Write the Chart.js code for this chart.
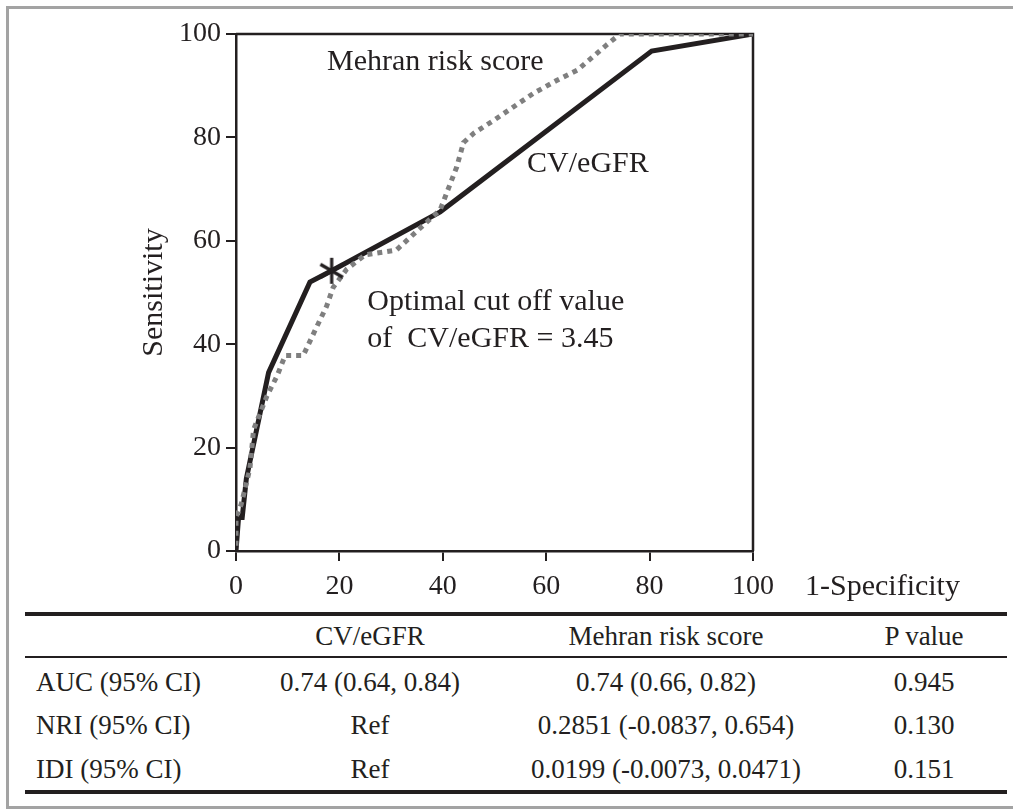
<!DOCTYPE html>
<html><head><meta charset="utf-8">
<script src="https://cdn.jsdelivr.net/npm/chart.js@4"></script>
<style>
body{margin:0;background:#fff;}
#wrap{position:relative;width:1013px;height:810px;overflow:hidden;background:#fff;}
#frame{position:absolute;left:6px;top:6px;width:1100px;height:803px;box-sizing:border-box;border:3px solid #a3a3a3;}
#c{position:absolute;left:0;top:0;}
.rule{position:absolute;left:25px;width:982px;background:#231f20;}
.t{position:absolute;font-family:"Liberation Serif","Times New Roman",serif;font-size:27px;line-height:27px;white-space:nowrap;color:#231f20;}
.c{width:340px;text-align:center;}
</style></head>
<body>
<div id="wrap">
  <div id="frame"></div>
  <canvas id="c" width="1013" height="610"></canvas>
  <div id="table"></div>
</div>
<script>
// ---- data ----
const cvEgfrX = [0, 0.5, 1.2, 2, 6.3, 14.3, 18.5, 39.5, 80.4, 100];
const cvEgfrY = [0, 6.5, 6.5, 14, 34.5, 52, 54.2, 65.6, 96.7, 100];
const mehranX = [0, 0, 1, 2.7, 3.4, 4.6, 6, 8, 9.5, 13, 15.3, 17.5, 18.8, 21.4, 25, 31, 39.5, 42.7, 44, 46, 50, 57.5, 62, 66, 71.7, 74.3, 100];
const mehranY = [1, 6.5, 9, 16, 23.5, 26.5, 30, 34, 37.8, 37.8, 42.7, 47.3, 51, 54.5, 57.3, 58.2, 66, 74.3, 79, 80.8, 83.4, 88.5, 91, 93, 97.9, 100, 100];
const cutoffX = [18.5];
const cutoffY = [54.2];
const seriesNames = ['CV/eGFR', 'Mehran risk score'];
const tableHeader = ['', 'CV/eGFR', 'Mehran risk score', 'P value'];
const tableRows = [
  ['AUC (95% CI)', '0.74 (0.64, 0.84)', '0.74 (0.66, 0.82)', '0.945'],
  ['NRI (95% CI)', 'Ref', '0.2851 (-0.0837, 0.654)', '0.130'],
  ['IDI (95% CI)', 'Ref', '0.0199 (-0.0073, 0.0471)', '0.151']
];

const FONT = '"Liberation Serif", "Times New Roman", serif';
const INK = '#231f20';

// asterisk marker
function makeAsterisk(){
  const s = 30, cv = document.createElement('canvas');
  cv.width = s; cv.height = s;
  const g = cv.getContext('2d');
  g.strokeStyle = INK; g.lineWidth = 3.2; g.lineCap = 'butt';
  const r = 13;
  [90, 30, 150].forEach(a => {
    const rad = a * Math.PI / 180;
    g.beginPath();
    g.moveTo(s/2 - r*Math.cos(rad), s/2 - r*Math.sin(rad));
    g.lineTo(s/2 + r*Math.cos(rad), s/2 + r*Math.sin(rad));
    g.stroke();
  });
  return cv;
}

const zip = (xs, ys) => xs.map((x, i) => ({x, y: ys[i]}));

const annot = {
  id: 'annot',
  beforeDatasetsDraw(chart){
    const {ctx, chartArea: a} = chart;
    ctx.save();
    ctx.strokeStyle = INK; ctx.lineWidth = 2.5;
    ctx.beginPath();
    ctx.moveTo(a.left, a.top); ctx.lineTo(a.right, a.top); ctx.lineTo(a.right, a.bottom);
    ctx.stroke();
    ctx.restore();
  },
  afterDatasetsDraw(chart){
    const {ctx, chartArea: a, scales: {x, y}} = chart;
    ctx.save();
    ctx.fillStyle = INK;
    ctx.font = '30px ' + FONT;
    ctx.textBaseline = 'alphabetic';
    ctx.textAlign = 'left';
    ctx.fillText(seriesNames[1], x.getPixelForValue(17.6), y.getPixelForValue(93.0));
    ctx.fillText(seriesNames[0], x.getPixelForValue(56.3), y.getPixelForValue(73.4));
    ctx.fillText('Optimal cut off value', x.getPixelForValue(25.4), y.getPixelForValue(46.6));
    ctx.fillText('of  CV/eGFR = 3.45', x.getPixelForValue(25.4), y.getPixelForValue(39.5));
    ctx.fillText('1-Specificity', a.right + 52, a.bottom + 44);
    ctx.restore();
  }
};

new Chart(document.getElementById('c'), {
  type: 'line',
  data: {
    datasets: [
      { label: 'cutoff', data: zip(cutoffX, cutoffY), showLine: false,
        pointStyle: makeAsterisk(), pointRadius: 13, borderColor: INK, backgroundColor: INK },
      { label: seriesNames[1], data: zip(mehranX, mehranY), borderColor: '#7f7f7f', borderWidth: 5,
        borderDash: [5, 5], borderCapStyle: 'butt', borderJoinStyle: 'miter', pointRadius: 0, tension: 0, fill: false },
      { label: seriesNames[0], data: zip(cvEgfrX, cvEgfrY), borderColor: INK, borderWidth: 5,
        borderJoinStyle: 'miter', pointRadius: 0, tension: 0, fill: false }
    ]
  },
  options: {
    responsive: false, animation: false, events: [],
    layout: { padding: { left: 136, top: 34, right: 260, bottom: 10 } },
    plugins: { legend: { display: false }, tooltip: { enabled: false } },
    scales: {
      x: {
        type: 'linear', min: 0, max: 100,
        ticks: { stepSize: 20, font: { family: FONT, size: 28 }, color: INK, padding: 9, maxRotation: 0 },
        grid: { drawOnChartArea: false, drawTicks: true, tickLength: 10, color: INK, lineWidth: 2 },
        border: { display: true, color: INK, width: 2.5 },
        afterFit: s => { s.height = 49; }
      },
      y: {
        type: 'linear', min: 0, max: 100,
        ticks: { stepSize: 20, font: { family: FONT, size: 28 }, color: INK, padding: 5 },
        grid: { drawOnChartArea: false, drawTicks: true, tickLength: 10, color: INK, lineWidth: 2 },
        border: { display: true, color: INK, width: 2.5 },
        title: { display: true, text: 'Sensitivity', font: { family: FONT, size: 30 }, color: INK, padding: 0 },
        afterFit: s => { s.width = 100; }
      }
    }
  },
  plugins: [annot]
});

// ---- table (HTML text) ----
(function(){
  const wrap = document.getElementById('wrap');
  const rule = (top, h) => { const d = document.createElement('div'); d.className = 'rule';
    d.style.top = top + 'px'; d.style.height = h + 'px'; wrap.appendChild(d); };
  rule(612, 4); rule(656, 2); rule(790, 4);
  const colCenters = [null, 370, 666, 924];
  const baselines = [645.6, 692, 735, 778.5];
  const asc = 0.891 * 27 + (27 - 1.107 * 27) / 2;
  const put = (txt, row, col) => {
    const d = document.createElement('div');
    d.textContent = txt;
    d.style.top = (baselines[row] - asc) + 'px';
    if (col === 0) { d.className = 't'; d.style.left = '36px'; }
    else { d.className = 't c'; d.style.left = (colCenters[col] - 170) + 'px'; }
    wrap.appendChild(d);
  };
  tableHeader.forEach((t, j) => { if (t) put(t, 0, j); });
  tableRows.forEach((r, i) => r.forEach((t, j) => put(t, i + 1, j)));
})();
</script>
</body></html>
